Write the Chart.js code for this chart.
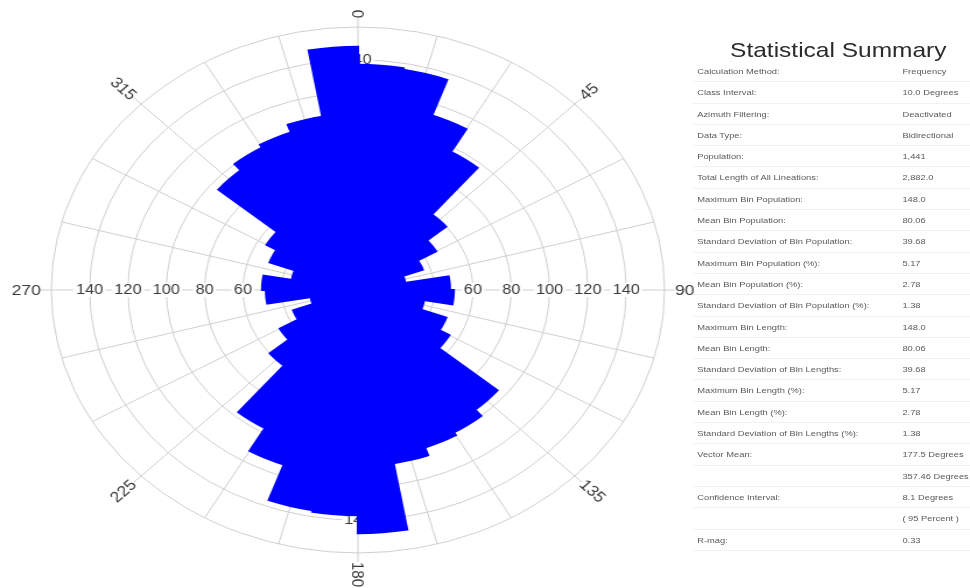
<!DOCTYPE html>
<html>
<head>
<meta charset="utf-8">
<title>Rose Diagram</title>
<script src="https://cdn.jsdelivr.net/npm/chart.js@4.4.1/dist/chart.umd.min.js"></script>
<style>
  html, body { margin: 0; padding: 0; background: #fff; }
  body { width: 970px; height: 588px; overflow: hidden; position: relative;
         font-family: "Liberation Sans", Arial, sans-serif; }
  /* the whole figure is drawn slightly wider than tall */
  #stage { position: absolute; left: 0; top: 0; width: 832px; height: 588px;
           transform: scaleX(1.1659); transform-origin: 0 0; }
  #roseBox { position: absolute; left: 0; top: 0; width: 614px; height: 588px; }
  #summaryTitle { position: absolute; left: 594px; top: 36px; width: 250px; height: 28px;
                  line-height: 28px; text-align: center; font-size: 21px; color: #2b2b2b; }
  #summaryRows { position: absolute; left: 594px; top: 61px; width: 238px; }
  .row { position: relative; box-sizing: border-box; height: 21.3px; line-height: 21.3px;
         font-size: 8px; color: #5a5a5a; border-bottom: 1px solid #f1f1f1; white-space: nowrap; }
  .row .k { position: absolute; left: 4px; }
  .row .v { position: absolute; left: 180px; }
</style>
</head>
<body>
<div id="stage">
  <div id="roseBox"><canvas id="rose"></canvas></div>
  <div id="summaryTitle">Statistical Summary</div>
  <div id="summaryRows"></div>
</div>
<script>
// 10-degree azimuth classes, clockwise from north
const binLabels = [
  '0-10', '10-20', '20-30', '30-40', '40-50', '50-60', '60-70', '70-80', '80-90',
  '90-100', '100-110', '110-120', '120-130', '130-140', '140-150', '150-160', '160-170', '170-180',
  '180-190', '190-200', '200-210', '210-220', '220-230', '230-240', '240-250', '250-260', '260-270',
  '270-280', '280-290', '290-300', '300-310', '310-320', '320-330', '330-340', '340-350', '350-360'
];
// bidirectional counts per class
const binCounts = [
  137, 136, 113, 97, 60, 47, 36, 25, 48,
  50, 35, 49, 55, 95, 100, 102, 107, 148,
  137, 136, 113, 97, 60, 47, 36, 25, 48,
  50, 35, 49, 55, 95, 100, 102, 107, 148
];
// radial scale
const ringMax = 160;
const ringStep = 20;
const ringLabels = [20, 40, 60, 80, 100, 120, 140];
// azimuth annotations
const azimuthMarks = [0, 45, 90, 135, 180, 225, 270, 315];
const azimuthText = ['0', '45', '90', '135', '180', '225', '270', '315'];

const summaryLabels = [
  'Calculation Method:', 'Class Interval:', 'Azimuth Filtering:', 'Data Type:', 'Population:',
  'Total Length of All Lineations:', 'Maximum Bin Population:', 'Mean Bin Population:',
  'Standard Deviation of Bin Population:', 'Maximum Bin Population (%):', 'Mean Bin Population (%):',
  'Standard Deviation of Bin Population (%):', 'Maximum Bin Length:', 'Mean Bin Length:',
  'Standard Deviation of Bin Lengths:', 'Maximum Bin Length (%):', 'Mean Bin Length (%):',
  'Standard Deviation of Bin Lengths (%):', 'Vector Mean:', '', 'Confidence Interval:', '', 'R-mag:'
];
const summaryValues = [
  'Frequency', '10.0 Degrees', 'Deactivated', 'Bidirectional', '1,441',
  '2,882.0', '148.0', '80.06',
  '39.68', '5.17', '2.78',
  '1.38', '148.0', '80.06',
  '39.68', '5.17', '2.78',
  '1.38', '177.5 Degrees', '357.46 Degrees', '8.1 Degrees', '( 95 Percent )', '0.33'
];

const rowsEl = document.getElementById('summaryRows');
summaryLabels.forEach((k, i) => {
  const row = document.createElement('div');
  row.className = 'row';
  const a = document.createElement('span'); a.className = 'k'; a.textContent = k;
  const b = document.createElement('span'); b.className = 'v'; b.textContent = summaryValues[i];
  row.appendChild(a); row.appendChild(b);
  rowsEl.appendChild(row);
});

const gridColor = '#cfcfcf';
const textColor = '#3a3a3a';
const barColor = 'rgb(0,0,255)';
const fontFamily = '"Liberation Sans", Arial, sans-serif';

// spokes, ring values and azimuth labels around the rose
const roseDecor = {
  id: 'roseDecor',
  beforeDatasetsDraw(chart) {
    const r = chart.scales.r;
    const ctx = chart.ctx;
    const cx = r.xCenter, cy = r.yCenter, R = r.drawingArea;
    ctx.save();
    ctx.strokeStyle = gridColor;
    ctx.lineWidth = 1;
    for (let a = 0; a < 360; a += 15) {
      const ext = azimuthMarks.includes(a) ? 9 : 0;
      const t = (a - 90) * Math.PI / 180;
      ctx.beginPath();
      ctx.moveTo(cx, cy);
      ctx.lineTo(cx + (R + ext) * Math.cos(t), cy + (R + ext) * Math.sin(t));
      ctx.stroke();
    }
    ctx.font = '14px ' + fontFamily;
    ctx.textAlign = 'center';
    ctx.textBaseline = 'middle';
    ringLabels.forEach(v => {
      const d = r.getDistanceFromCenterForValue(v);
      const txt = String(v);
      const w = ctx.measureText(txt).width;
      [[-d, 0], [d, 0], [0, -d], [0, d]].forEach(([dx, dy]) => {
        ctx.fillStyle = '#fff';
        ctx.fillRect(cx + dx - w / 2 - 2, cy + dy - 7, w + 4, 14);
        ctx.fillStyle = textColor;
        ctx.fillText(txt, cx + dx, cy + dy + 0.5);
      });
    });
    ctx.restore();
  },
  afterDraw(chart) {
    const r = chart.scales.r;
    const ctx = chart.ctx;
    const cx = r.xCenter, cy = r.yCenter, R = r.drawingArea;
    ctx.save();
    ctx.font = '15px ' + fontFamily;
    ctx.fillStyle = textColor;
    ctx.textAlign = 'center';
    ctx.textBaseline = 'middle';
    azimuthMarks.forEach((deg, i) => {
      const txt = azimuthText[i];
      const w = ctx.measureText(txt).width;
      const d = R + 9 + w / 2;
      const t = (deg - 90) * Math.PI / 180;
      let rot = deg - 90;
      while (rot <= -90) rot += 180;
      while (rot > 90) rot -= 180;
      ctx.save();
      ctx.translate(cx + d * Math.cos(t), cy + d * Math.sin(t));
      ctx.rotate(rot * Math.PI / 180);
      ctx.fillText(txt, 0, 0.5);
      ctx.restore();
    });
    ctx.restore();
  }
};

new Chart(document.getElementById('rose'), {
  type: 'polarArea',
  data: {
    labels: binLabels,
    datasets: [{
      data: binCounts,
      backgroundColor: barColor,
      borderColor: barColor,
      borderWidth: 2,
      borderJoinStyle: 'miter'
    }]
  },
  options: {
    responsive: true,
    maintainAspectRatio: false,
    animation: false,
    layout: { padding: { top: 27, bottom: 35, left: 0, right: 0 } },
    plugins: { legend: { display: false }, tooltip: { enabled: false } },
    scales: {
      r: {
        min: 0,
        max: ringMax,
        startAngle: 0,
        ticks: { display: false, stepSize: ringStep },
        grid: { circular: true, color: gridColor, lineWidth: 1 },
        angleLines: { display: false },
        pointLabels: { display: false }
      }
    }
  },
  plugins: [roseDecor]
});
</script>
</body>
</html>
